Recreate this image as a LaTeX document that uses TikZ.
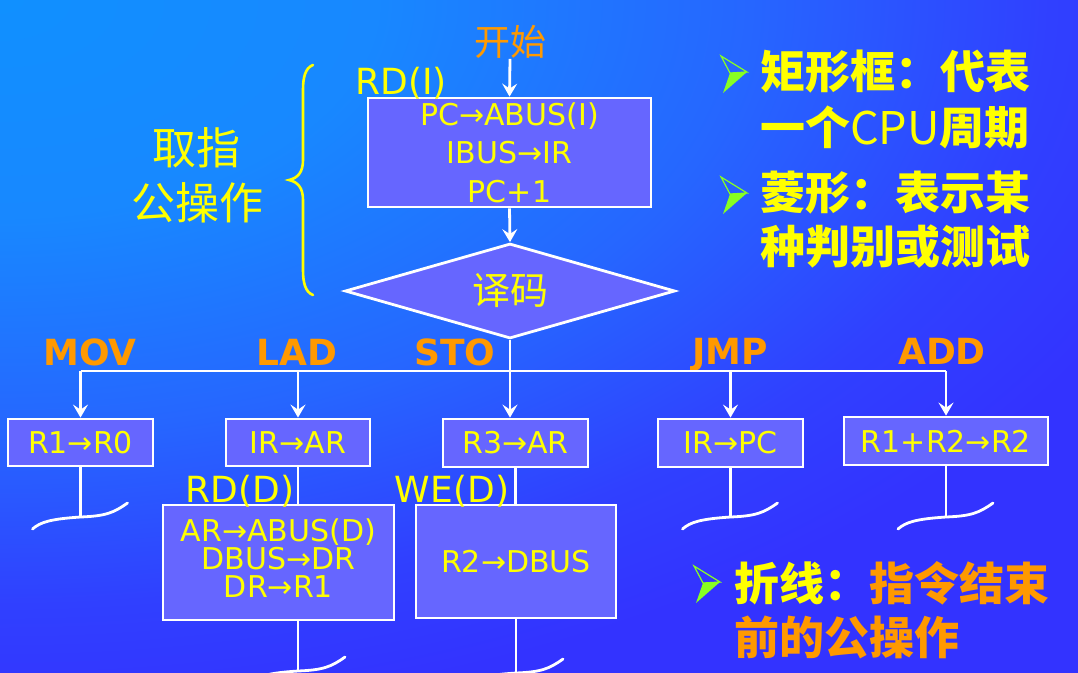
\documentclass[tikz,border=0pt]{standalone}
\usepackage{fontspec}
\setmainfont{DejaVu Sans}
\newfontfamily\cjk{Noto Sans CJK SC}
\usetikzlibrary{arrows.meta,shapes.geometric}

\definecolor{bgA}{HTML}{1090FF}
\definecolor{bgB}{HTML}{1888FF}
\definecolor{bgC}{HTML}{2666FF}
\definecolor{bgD}{HTML}{3040FF}
\definecolor{bgE}{HTML}{3333FF}
\definecolor{boxfill}{HTML}{6666FF}
\definecolor{hiyellow}{HTML}{FFFF00}
\definecolor{hiorange}{HTML}{FF9900}
\definecolor{dartgreen}{HTML}{88FF22}

% radial ramp from the top-left corner; 25bp is the edge of the shaded box
\pgfdeclareradialshading{slidebg}{\pgfpoint{0bp}{0bp}}{color(0bp)=(bgA); color(7.5bp)=(bgB); color(15bp)=(bgC); color(21bp)=(bgD); color(25bp)=(bgE); color(50bp)=(bgE)}

\newcommand\fsz[1]{\fontsize{#1}{#1}\selectfont}

\tikzset{
  wire/.style={white, line width=2.8pt},
  arr/.style={wire, -{Stealth[length=13pt,width=15pt,inset=5pt]}},
  wave/.style={white, line width=2.8pt, line cap=round},
  brace/.style={hiyellow, line width=2.6pt, line cap=round},
  opbox/.style={draw=white, line width=2.8pt, fill=boxfill, inner sep=0pt,
    text=hiyellow, align=center, font=\fontsize{30}{36}\selectfont},
  lbl/.style={inner sep=0pt, text=hiyellow},
  oplbl/.style={inner sep=0pt, anchor=base, text=hiorange, font=\bfseries\fsz{36}},
  rtext/.style={inner sep=0pt, anchor=west, text=hiyellow, font=\cjk\bfseries\fsz{45}},
  dart/.pic={
    \fill[dartgreen] (-4,1) -- (13,0) -- (-11,21) -- cycle;
    \draw[dartgreen, line width=1.2pt, line join=miter] (-13,-16) -- (13,0) -- (-4,1) -- cycle;
  }
}

\begin{document}
\begin{tikzpicture}[x=1pt,y=-1pt]
\useasboundingbox (0,0) rectangle (1078,672);

% slide background
\begin{scope}
  \clip (0,0) rectangle (1078,672);
  \shade[shading=slidebg] (-1250,-720) rectangle (1250,720);
\end{scope}

% instruction fetch
\node[lbl, text=hiorange, font=\cjk\fsz{36}] (start) at (510,42) {开始};
\node[opbox, minimum width=283pt, minimum height=109pt,
      font=\fontsize{30}{38.5}\selectfont] (fetch) at (509.5,152.5)
      {PC→ABUS(I)\\IBUS→IR\\PC+1};
\node[lbl, font=\fsz{36}] (rdi) at (401,83) {RD(I)};
\node[diamond, aspect=3.46, draw=white, line width=2.8pt, fill=boxfill,
      minimum width=330pt, minimum height=95pt, inner sep=0pt, text=hiyellow,
      font=\cjk\fsz{38}] (decode) at (510,291) {译码};
\draw[arr] (start.south) -- (fetch.north);
\draw[arr] (fetch.south) -- (decode.north);

% common fetch phase
\draw[brace] (313,65) .. controls (305,68) and (303,78) .. (303,90) -- (303,160)
  .. controls (303,172) and (298,178) .. (289,180)
  .. controls (298,182) and (303,188) .. (303,200) -- (303,270)
  .. controls (303,282) and (305,292) .. (313,295);
\node[lbl, font=\cjk\fsz{44}] (fetchA) at (196,148) {取指};
\node[lbl, font=\cjk\fsz{44}] (fetchB) at (197,203) {公操作};

% execution branches
\node[opbox, minimum width=145pt, minimum height=47pt] (mov) at (80.5,442.5) {R1→R0};
\node[opbox, minimum width=144pt, minimum height=47pt] (lad) at (298,442.5) {IR→AR};
\node[opbox, minimum width=145pt, minimum height=48pt] (sto) at (515.5,443) {R3→AR};
\node[opbox, minimum width=145pt, minimum height=48pt] (jmp) at (730.5,443) {IR→PC};
\node[opbox, minimum width=204pt, minimum height=48pt] (add) at (946,441) {R1+R2→R2};

\node[oplbl] (movlbl) at (90,365) {MOV};
\node[oplbl] (ladlbl) at (297,365) {LAD};
\node[oplbl] (stolbl) at (455,365) {STO};
\node[oplbl] (jmplbl) at (730,364) {JMP};
\node[oplbl] (addlbl) at (942,364) {ADD};

\node[opbox, minimum width=231pt, minimum height=115pt,
      font=\fontsize{30}{28}\selectfont] (ladmem) at (278.5,562.5)
      {AR→ABUS(D)\\DBUS→DR\\DR→R1\\[-20pt]\mbox{}};
\node[opbox, minimum width=200pt, minimum height=113pt] (stomem) at (516,561.5) {R2→DBUS};
\node[lbl, font=\fsz{36}] (rdd) at (240,491) {RD(D)};
\node[lbl, font=\fsz{36}] (wed) at (452,491) {WE(D)};

\coordinate (bus) at (510,371);
\coordinate (row1) at (0,517);
\draw[wire] (decode.south) -- (bus);
\draw[wire] (mov.north |- bus) -- (add.north |- bus);
\draw[arr] (mov.north |- bus) -- (mov.north);
\draw[arr] (lad.north |- bus) -- (lad.north);
\draw[arr] (bus) -- (bus |- sto.north);
\draw[arr] (jmp.north |- bus) -- (jmp.north);
\draw[arr] (add.north |- bus) -- (add.north);

\draw[wire] (lad.south) -- (lad.south |- ladmem.north);
\draw[wire] (sto.south) -- (sto.south |- stomem.north);

% end of instruction
\coordinate (movend) at (mov.south |- row1);
\coordinate (jmpend) at (jmp.south |- row1);
\coordinate (addend) at (add.south |- row1);
\coordinate (ladend) at (298,671);
\coordinate (stoend) at (516,673);
\draw[wire] (mov.south) -- (movend);
\draw[wire] (jmp.south) -- (jmpend);
\draw[wire] (add.south) -- (addend);
\draw[wire] (lad.south |- ladmem.south) -- (ladend);
\draw[wire] (stomem.south) -- (stoend);
\foreach \e in {movend,jmpend,addend,ladend,stoend}
  \draw[wave, shift={(\e)}] (-48,12) .. controls (-40,5) and (-30,2) .. (0,0)
    .. controls (25,-1) and (33,-4) .. (47,-14);

% notes
\pic at (734,72) {dart};
\pic at (734,193) {dart};
\pic at (707,582) {dart};
\node[rtext] (note1a) at (760,72) {矩形框：代表};
\node[rtext] (note1b) at (760,127) {一个{\mdseries CPU}周期};
\node[rtext] (note2a) at (760,193) {菱形：表示某};
\node[rtext] (note2b) at (760,247) {种判别或测试};
\node[rtext] (note3a) at (734,583) {折线：\textcolor{hiorange}{指令结束}};
\node[rtext, text=hiorange] (note3b) at (734,637) {前的公操作};
\end{tikzpicture}
\end{document}
